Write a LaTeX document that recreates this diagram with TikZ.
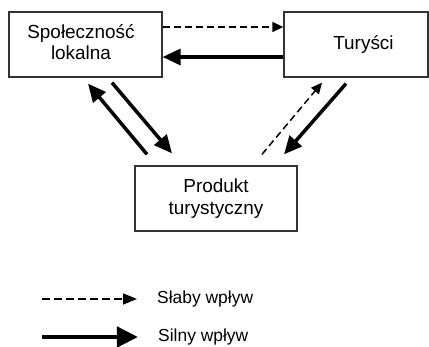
\documentclass[tikz,border=0pt]{standalone}
\usepackage{fontspec}
\setmainfont{Liberation Sans}
\usetikzlibrary{arrows.meta,calc}
\begin{document}
\begin{tikzpicture}[x=1bp,y=-1bp,
  box/.style={draw=black!80,line width=1.3bp,rectangle,minimum height=65bp,inner sep=0pt,align=center,font=\fontsize{19}{21.5}\selectfont},
  strong/.style={line width=3.5bp,-{Triangle[length=18bp,width=16bp]}},
  weak/.style={line width=1.5bp,dash pattern=on 7bp off 4bp,-{Triangle[length=11bp,width=10bp]}},
  legtext/.style={anchor=west,inner sep=0pt,font=\fontsize{17.5}{20}\selectfont}]
\useasboundingbox (0,0) rectangle (429,347);
\node[box,minimum width=153bp] (A) at (85.5,44.5) {\raisebox{2.5bp}{\begin{tabular}{@{}c@{}}Społeczność\\lokalna\end{tabular}}\hspace*{9bp}};
\node[box,minimum width=144bp] (B) at (356,44.5) {\hspace*{15bp}\raisebox{1.5bp}{Turyści}};
\node[box,minimum width=162bp] (C) at (216,198.5) {Produkt\\turystyczny};
% horizontal pair
\draw[weak] ($(A.east)+(0,-17.5)$) -- ($(B.west)+(0,-17.5)$);
\draw[strong] ($(B.west)+(0,12.5)$) -- ($(A.east)+(0,12.5)$);
% left pair
\draw[strong] ($(C.north)+(-69,-11)$) -- ($(A.south)+(2.5,6)$);
\draw[strong] ($(A.south)+(26.5,5)$) -- ($(C.north)+(-44,-12)$);
% right pair
\draw[weak] ($(C.north)+(46,-11)$) -- ($(B.south)+(-34,5)$);
\draw[strong] ($(B.south)+(-10,6)$) -- ($(C.north)+(68,-11)$);
% legend
\coordinate (l1a) at (42,299);
\coordinate (l1b) at (137,299);
\coordinate (l2a) at (42,337);
\coordinate (l2b) at (138,337);
\draw[line width=1.5bp,dash pattern=on 8bp off 4bp,-{Triangle[length=14bp,width=11bp]}] (l1a) -- (l1b);
\draw[line width=4.5bp,-{Triangle[length=21bp,width=20bp]}] (l2a) -- (l2b);
\node[legtext] (t1) at (157,299) {Słaby wpływ};
\node[legtext] (t2) at (158,337) {Silny wpływ};
\end{tikzpicture}
\end{document}
